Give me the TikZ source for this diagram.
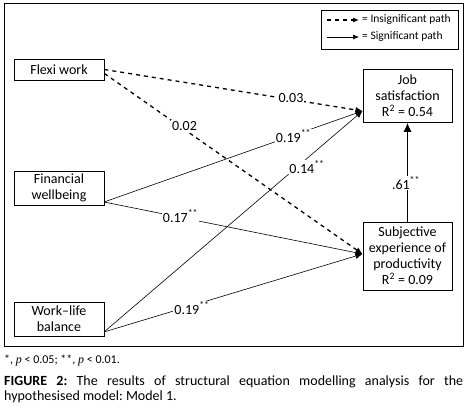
\documentclass[tikz,border=0pt]{standalone}
\usepackage{fontspec}
\setmainfont{Carlito}
\newfontfamily\pfont{Liberation Serif}
\usetikzlibrary{arrows.meta}
\begin{document}
\frenchspacing
\begin{tikzpicture}[x=1pt,y=-1pt,
  box/.style={draw,line width=0.8pt,inner sep=0pt,align=center,font=\fontsize{14}{16}\selectfont},
  lab/.style={fill=white,inner sep=1pt,font=\fontsize{14}{16}\selectfont},
  sig/.style={line width=0.6pt,-{Latex[length=7pt,width=6pt]}},
  insig/.style={line width=1.3pt,dash pattern=on 4pt off 4pt,-{Latex[length=7pt,width=6pt]}},
  legtxt/.style={anchor=west,inner sep=0pt,font=\fontsize{11.5}{13}\selectfont}]
\useasboundingbox (0,0) rectangle (467,411);
\node[draw,line width=1pt,minimum width=459pt,minimum height=343pt,inner sep=0pt] (frame) at (233.5,175.5) {};
% legend
\node[draw,line width=0.8pt,minimum width=137pt,minimum height=39pt,inner sep=0pt] (legend) at (389.5,29.5) {};
\coordinate (l1a) at (327,20); \coordinate (l1b) at (359,20);
\coordinate (l2a) at (327,37); \coordinate (l2b) at (359,37);
\draw[insig,line width=1.1pt,-{Latex[length=6pt,width=5pt]}] (l1a) -- (l1b);
\draw[sig,-{Latex[length=6pt,width=5pt]}] (l2a) -- (l2b);
\node[legtxt] (lt1) at (362,20) {= Insignificant path};
\node[legtxt] (lt2) at (362,37) {= Significant path};
% boxes
\node[box,minimum width=90pt,minimum height=21pt] (flexi) at (59,69.5) {Flexi work};
\node[box,minimum width=90pt,minimum height=34pt] (fin) at (59,188) {Financial\\wellbeing};
\node[box,minimum width=90pt,minimum height=34pt] (wlb) at (59,319) {Work–life\\balance};
\node[box,minimum width=89pt,minimum height=53pt] (job) at (407.5,96) {Job\\satisfaction\\R\textsuperscript{2} = 0.54};
\node[box,minimum width=89pt,minimum height=68pt] (subj) at (407.5,256) {Subjective\\experience of\\productivity\\R\textsuperscript{2} = 0.09};
% connection points
\coordinate (jin) at (362.5,111);
\coordinate (sin) at (362.5,254);
\coordinate (fout) at (104,202);
\coordinate (wout) at (104,332);
% paths
\draw[insig] (flexi.east) -- (jin);
\draw[insig] ([yshift=-4pt]flexi.east) -- (sin);
\draw[sig] (fout) -- (jin);
\draw[sig] (fout) -- (sin);
\draw[sig] (wout) -- (jin);
\draw[sig] (wout) -- (sin);
\draw[sig,line width=0.8pt,-{Latex[length=9pt,width=8pt]}] (subj.north) -- (job.south);
% labels
\node[lab] (l03) at (291,98) {0.03};
\node[lab] (l02) at (184.5,126) {0.02};
\node[lab] (l19a) at (293.5,136) {0.19\textsuperscript{**}};
\node[lab] (l14) at (307,167) {0.14\textsuperscript{**}};
\node[lab] (l17) at (180.5,216) {0.17\textsuperscript{**}};
\node[lab] (l19b) at (192,308) {0.19\textsuperscript{**}};
\node[lab] (l61) at (406,183) {.61\textsuperscript{**}};
% footnote and caption
\node[anchor=west,inner sep=0pt,font=\fontsize{12}{13}\selectfont] (foot) at (4,361) {*, {\pfont\itshape p} < 0.05; **, {\pfont\itshape p} < 0.01.};
\node[anchor=west,inner sep=0pt,font=\fontsize{14}{15}\selectfont] (cap1) at (4,382) {\makebox[459pt][s]{\textbf{FIGURE 2:} The results of structural equation modelling analysis for the}};
\node[anchor=west,inner sep=0pt,font=\fontsize{14}{15}\selectfont] (cap2) at (4,397) {hypothesised model: Model 1.};
\end{tikzpicture}
\end{document}
